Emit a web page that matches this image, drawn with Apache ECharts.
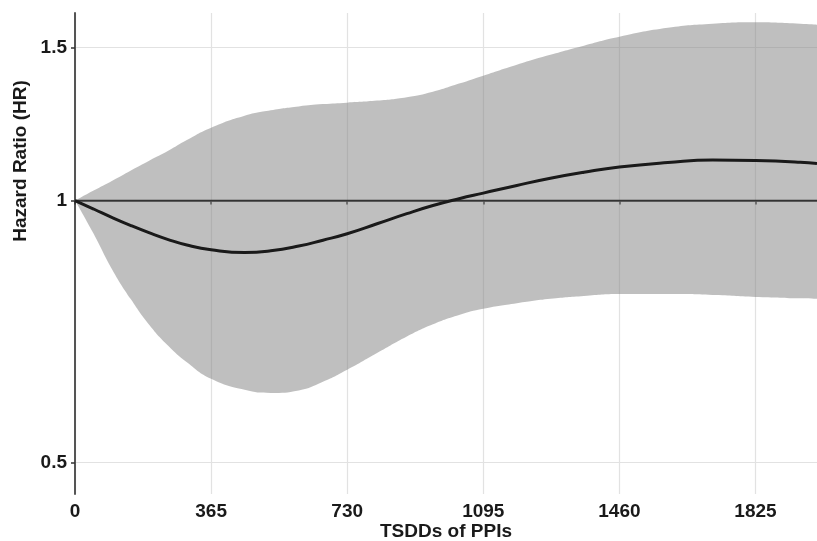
<!DOCTYPE html>
<html>
<head>
<meta charset="utf-8">
<script src="https://cdn.jsdelivr.net/npm/echarts@6/dist/echarts.min.js"></script>
<style>
html,body{margin:0;padding:0;background:#fff;}
#chart{width:817px;height:541px;}
</style>
</head>
<body>
<div id="chart"></div>
<script>
// time since drug dispensing (days)
var days    = [0, 50, 100, 150, 200, 250, 300, 365, 455, 525, 600, 665, 730, 810, 890, 960, 1030, 1095, 1185, 1275, 1365, 1460, 1590, 1710, 1825, 1945, 1990];
var hr      = [1.0, 0.978, 0.956, 0.936, 0.918, 0.902, 0.889, 0.878, 0.8715, 0.8755, 0.8866, 0.9005, 0.916, 0.9405, 0.966, 0.987, 1.005, 1.020, 1.041, 1.061, 1.078, 1.093, 1.106, 1.1135, 1.112, 1.107, 1.103];
var hrLower = [1.0, 0.916, 0.833, 0.770, 0.719, 0.681, 0.652, 0.624, 0.606, 0.601, 0.605, 0.619, 0.639, 0.668, 0.698, 0.721, 0.739, 0.751, 0.762, 0.771, 0.777, 0.781, 0.781, 0.779, 0.775, 0.772, 0.771];
var hrUpper = [1.0, 1.027, 1.054, 1.083, 1.112, 1.141, 1.174, 1.213, 1.252, 1.270, 1.283, 1.291, 1.296, 1.303, 1.315, 1.334, 1.363, 1.392, 1.433, 1.471, 1.507, 1.543, 1.580, 1.597, 1.603, 1.597, 1.593];
var xTicks = [0, 365, 730, 1095, 1460, 1825];
var yTicks = [0.5, 1, 1.5];
var yTickLabels = ['0.5', '1', '1.5'];
var refHR = 1;

var FONT = 'Liberation Sans, Arial, Helvetica, sans-serif';
var ln = Math.log;

// value first, day second: so the stack adds up along the y dimension
var lowerData = days.map(function (d, i) { return [ln(hrLower[i]), d]; });
var bandData = days.map(function (d, i) { return [ln(hrUpper[i]) - ln(hrLower[i]), d]; });
var lineData = days.map(function (d, i) { return [ln(hr[i]), d]; });

var myChart = echarts.init(document.getElementById('chart'));
var option = {
  animation: false,
  grid: { left: 75, right: 0, top: 13, bottom: 47, outerBoundsMode: 'none' },
  graphic: [{
    type: 'text',
    x: 21, y: 161,
    rotation: Math.PI / 2,
    style: {
      text: 'Hazard Ratio (HR)',
      font: 'bold 19px ' + FONT,
      fill: '#1a1a1a',
      align: 'center',
      verticalAlign: 'middle'
    }
  }],
  xAxis: {
    type: 'value',
    min: 0,
    max: 1990,
    name: 'TSDDs of PPIs',
    nameLocation: 'middle',
    nameGap: 28,
    nameMoveOverlap: false,
    nameTextStyle: { fontFamily: FONT, fontWeight: 'bold', fontSize: 19, color: '#1a1a1a' },
    axisLine: { lineStyle: { color: '#555', width: 2 } },
    axisTick: { customValues: xTicks, length: 4, lineStyle: { color: '#333', width: 1.5 } },
    axisLabel: {
      customValues: xTicks, margin: 8,
      fontFamily: FONT, fontWeight: 'bold', fontSize: 19, color: '#1a1a1a',
      formatter: function (v) { return String(v); }
    },
    splitLine: { show: true, lineStyle: { color: '#e2e2e2', width: 1.2 } }
  },
  yAxis: {
    type: 'value',
    min: ln(0.46),
    max: ln(1.643),
    axisLine: { show: true, lineStyle: { color: '#555', width: 2 } },
    axisTick: { show: true, customValues: yTicks.map(ln), length: 4, lineStyle: { color: '#333', width: 1.5 } },
    axisLabel: {
      customValues: yTicks.map(ln),
      margin: 8,
      fontFamily: FONT, fontWeight: 'bold', fontSize: 19, color: '#1a1a1a',
      formatter: function (v) {
        var best = 0;
        yTicks.forEach(function (t, i) {
          if (Math.abs(ln(t) - v) < Math.abs(ln(yTicks[best]) - v)) best = i;
        });
        return yTickLabels[best];
      }
    },
    splitLine: { show: true, lineStyle: { color: '#e2e2e2', width: 1.2 } }
  },
  series: [
    {
      name: 'lower',
      type: 'line',
      data: lowerData,
      encode: { x: 1, y: 0 },
      stack: 'ci',
      stackStrategy: 'all',
      smooth: 0.5,
      symbol: 'none',
      lineStyle: { width: 0 },
      silent: true
    },
    {
      name: 'ci',
      type: 'line',
      data: bandData,
      encode: { x: 1, y: 0 },
      stack: 'ci',
      stackStrategy: 'all',
      smooth: 0.5,
      symbol: 'none',
      lineStyle: { width: 0 },
      areaStyle: { color: 'rgba(128,128,128,0.5)', opacity: 1 },
      silent: true
    },
    {
      name: 'HR',
      type: 'line',
      data: lineData,
      encode: { x: 1, y: 0 },
      smooth: 0.5,
      symbol: 'none',
      lineStyle: { color: '#1a1a1a', width: 3 },
      z: 5,
      markLine: {
        silent: true,
        symbol: 'none',
        label: { show: false },
        lineStyle: { color: '#333', width: 1.3, type: 'solid' },
        data: [{ yAxis: ln(refHR) }]
      }
    }
  ]
};
myChart.setOption(option);
</script>
</body>
</html>
